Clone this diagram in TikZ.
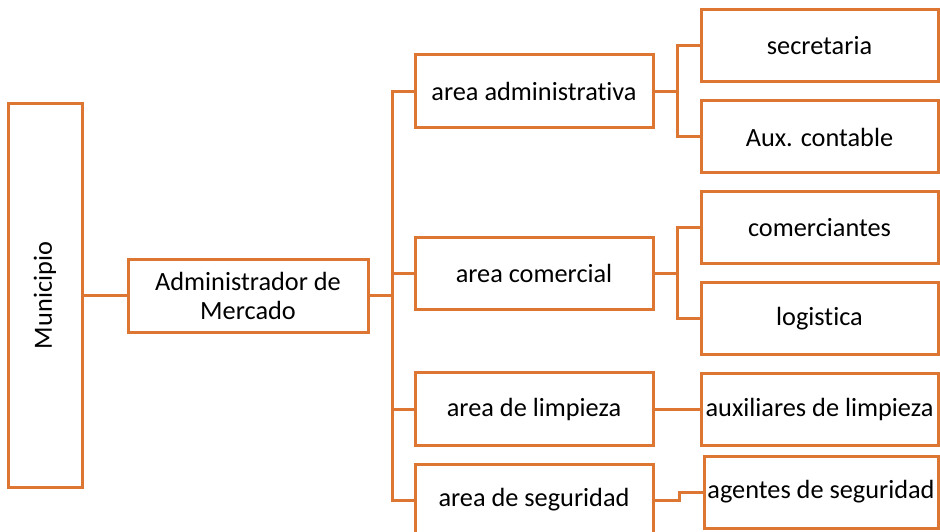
\documentclass[tikz,border=0pt]{standalone}
\usepackage{fontspec}
\setmainfont{Carlito}[Ligatures=NoCommon]
\definecolor{orc}{HTML}{DE7633}
\tikzset{
  orgbox/.style={draw=orc, line width=3pt, rectangle, inner sep=0pt, align=center,
    font=\fontsize{26.3}{29}\selectfont, text=black},
  conn/.style={draw=orc, line width=3pt},
}
\begin{document}
\begin{tikzpicture}[x=1pt,y=-1pt]
\useasboundingbox (0,0) rectangle (940,532);
\clip (0,0) rectangle (940,532);
% boxes
\node[orgbox, minimum width=74pt, minimum height=383pt] (mun) at (45,295.5) {};
\node[rotate=90, font=\fontsize{26.3}{29}\selectfont, inner sep=0pt] (muntxt) at (mun.center) {Municipio};
\node[orgbox, minimum width=240pt, minimum height=73pt] (adm) at (248,295.5) {Administrador de\\Mercado};
\node[orgbox, minimum width=238pt, minimum height=73pt] (aa) at (534,91.5) {area administrativa};
\node[orgbox, minimum width=238pt, minimum height=72pt] (ac) at (534,273) {area comercial};
\node[orgbox, minimum width=238pt, minimum height=73pt] (al) at (534,409) {area de limpieza};
\node[orgbox, minimum width=238pt, minimum height=72pt] (as) at (534,500) {area de seguridad};
\node[orgbox, minimum width=237pt, minimum height=72pt] (sec) at (819.5,46) {secretaria};
\node[orgbox, minimum width=237pt, minimum height=72pt] (aux) at (819.5,137) {Aux. contable};
\node[orgbox, minimum width=237pt, minimum height=72pt] (com) at (819.5,227.5) {comerciantes};
\node[orgbox, minimum width=237pt, minimum height=72pt] (log) at (819.5,318.5) {logistica};
\node[orgbox, minimum width=237pt, minimum height=72pt] (auxl) at (819.5,409) {auxiliares de limpieza};
\node[orgbox, minimum width=234pt, minimum height=72pt] (ag) at (821,492) {agentes de seguridad};
% junction coordinates
\coordinate (tr) at (392,0);
\coordinate (sb) at (677,0);
\coordinate (sb2) at (679,0);
% connectors
\draw[conn] (mun.east |- adm.west) -- (adm.west);
\draw[conn] (adm.east) -- (adm.east -| tr);
\draw[conn] (aa.west) -- (aa.west -| tr) -- (as.west -| tr) -- (as.west);
\draw[conn] (ac.west) -- (ac.west -| tr);
\draw[conn] (al.west) -- (al.west -| tr);
\draw[conn] (aa.east) -- (aa.east -| sb);
\draw[conn] (sec.west) -- (sec.west -| sb) -- (aux.west -| sb) -- (aux.west);
\draw[conn] (ac.east) -- (ac.east -| sb);
\draw[conn] (com.west) -- (com.west -| sb) -- (log.west -| sb) -- (log.west);
\draw[conn] (al.east) -- (auxl.west);
\draw[conn] (as.east) -- (as.east -| sb2) -- (ag.west -| sb2) -- (ag.west);
\end{tikzpicture}
\end{document}
